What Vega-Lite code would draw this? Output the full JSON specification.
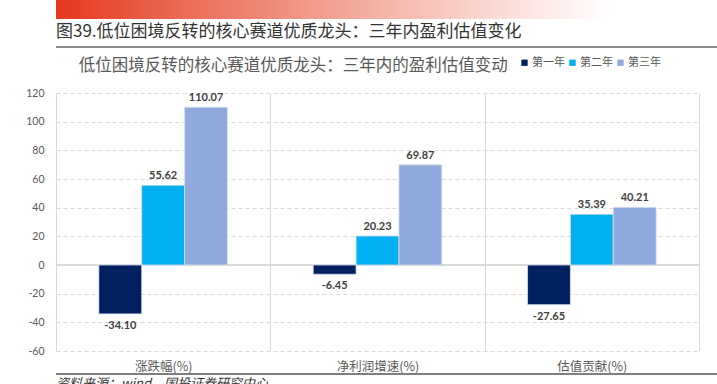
{
  "$schema": "https://vega.github.io/schema/vega-lite/v6.json",
  "background": "white",
  "padding": {"left": 25, "top": 0, "right": 0, "bottom": 0},
  "config": {"view": {"stroke": null}, "axisY": {"labelOverlap": false, "labelSeparation": 0}, "axisQuantitative": {"labelOverlap": false}, "locale": {"number": {"decimal": ".", "thousands": ",", "grouping": [3], "currency": ["$", ""], "minus": "-"}}},
  "columns": 1,
  "align": "none",
  "spacing": 9,
  "concat": [
    {
      "columns": 1,
      "align": "none",
      "spacing": 4,
      "concat": [
        {
          "width": 692,
          "height": 19,
          "data": {"values": [{"k": 1}]},
          "mark": {"type": "rect", "fill": {"gradient": "linear", "x1": 0, "x2": 1, "y1": 0, "y2": 0, "stops": [{"offset": 0, "color": "#e5381e"}, {"offset": 0.3, "color": "#ec7a66"}, {"offset": 0.6, "color": "#f5b6aa"}, {"offset": 0.85, "color": "#fce5e1"}, {"offset": 1, "color": "#ffffff"}]}},
          "encoding": {
            "x": {"datum": 0, "type": "quantitative", "scale": {"domain": [0, 1]}, "axis": null},
            "x2": {"datum": 0.8},
            "y": {"datum": 0, "type": "quantitative", "scale": {"domain": [0, 1]}, "axis": null},
            "y2": {"datum": 1}
          }
        },
        {
          "width": 692,
          "height": 2,
          "title": {"text": "图39.低位困境反转的核心赛道优质龙头：三年内盈利估值变化", "orient": "top", "anchor": "start", "font": "Noto Sans CJK SC", "fontSize": 17, "fontWeight": "normal", "color": "#333333", "offset": 5},
          "data": {"values": [{"k": 1}]},
          "mark": {"type": "rect", "fill": "#8c8c8c"},
          "encoding": {
            "x": {"datum": 0, "type": "quantitative", "scale": {"domain": [0, 1]}, "axis": null},
            "x2": {"datum": 1},
            "y": {"datum": 0, "type": "quantitative", "scale": {"domain": [0, 1]}, "axis": null},
            "y2": {"datum": 1}
          }
        }
      ]
    },
    {
      "columns": 1,
      "align": "none",
      "spacing": 0,
      "concat": [
        {
          "width": 643,
          "height": 258,
          "title": {"text": "低位困境反转的核心赛道优质龙头：三年内的盈利估值变动", "anchor": "start", "dx": 53, "font": "Noto Sans CJK SC", "fontSize": 16.5, "fontWeight": "normal", "color": "#595959", "offset": 14},
          "data": {"values": [
            {"cat": "涨跌幅(%)", "year": "第一年", "value": -34.10},
            {"cat": "涨跌幅(%)", "year": "第二年", "value": 55.62},
            {"cat": "涨跌幅(%)", "year": "第三年", "value": 110.07},
            {"cat": "净利润增速(%)", "year": "第一年", "value": -6.45},
            {"cat": "净利润增速(%)", "year": "第二年", "value": 20.23},
            {"cat": "净利润增速(%)", "year": "第三年", "value": 69.87},
            {"cat": "估值贡献(%)", "year": "第一年", "value": -27.65},
            {"cat": "估值贡献(%)", "year": "第二年", "value": 35.39},
            {"cat": "估值贡献(%)", "year": "第三年", "value": 40.21}
          ]},
          "encoding": {
            "y": {"field": "value", "type": "quantitative", "scale": {"domain": [-60, 120], "nice": false},
              "axis": {"title": null, "values": [-60, -40, -20, 0, 20, 40, 60, 80, 100, 120], "labelOverlap": false, "labelFont": "Lato", "labelFontSize": 10.5, "labelColor": "#595959", "labelPadding": 12, "ticks": false, "domain": false, "gridColor": "#d9d9d9", "gridDash": [4, 3], "gridWidth": 1, "minExtent": 30, "maxExtent": 30}}
          },
          "layer": [
            {
              "mark": {"type": "rule", "color": "#d9d9d9", "strokeWidth": 1},
              "encoding": {"y": {"datum": 0, "type": "quantitative"}}
            },
            {
              "mark": {"type": "bar", "stroke": "#d6dff0", "strokeWidth": 0.8},
              "encoding": {
                "x": {"field": "cat", "type": "nominal", "sort": ["涨跌幅(%)", "净利润增速(%)", "估值贡献(%)"], "scale": {"paddingInner": 0, "paddingOuter": 0},
                  "axis": {"title": null, "labelAngle": 0, "labelFont": "Noto Sans CJK SC", "labelFontSize": 12.5, "labelColor": "#595959", "labelPadding": 9, "ticks": false, "domain": false, "grid": true, "tickBand": "extent", "gridColor": "#d9d9d9", "gridWidth": 1}},
                "xOffset": {"field": "year", "type": "nominal", "sort": ["第一年", "第二年", "第三年"], "scale": {"paddingInner": 0, "paddingOuter": 1}},
                "color": {"field": "year", "type": "nominal", "sort": ["第一年", "第二年", "第三年"], "scale": {"domain": ["第一年", "第二年", "第三年"], "range": ["#002060", "#00b0f0", "#8faadc"]},
                  "legend": {"title": null, "orient": "none", "legendX": 463, "legendY": 57, "direction": "horizontal", "symbolType": "square", "symbolSize": 40, "symbolStrokeWidth": 0, "labelFont": "Noto Sans CJK SC", "labelFontSize": 11, "labelColor": "#595959", "labelOffset": 2, "columnPadding": 2}}
              }
            },
            {
              "transform": [{"filter": "datum.value >= 0"}],
              "mark": {"type": "text", "baseline": "bottom", "dy": -4, "font": "Lato", "fontSize": 11, "fontWeight": "bold", "color": "#404040"},
              "encoding": {
                "x": {"field": "cat", "type": "nominal", "sort": ["涨跌幅(%)", "净利润增速(%)", "估值贡献(%)"]},
                "xOffset": {"field": "year", "type": "nominal", "sort": ["第一年", "第二年", "第三年"]},
                "text": {"field": "value", "type": "quantitative", "format": ".2f"}
              }
            },
            {
              "transform": [{"filter": "datum.value < 0"}],
              "mark": {"type": "text", "baseline": "top", "dy": 6, "font": "Lato", "fontSize": 11, "fontWeight": "bold", "color": "#404040"},
              "encoding": {
                "x": {"field": "cat", "type": "nominal", "sort": ["涨跌幅(%)", "净利润增速(%)", "估值贡献(%)"]},
                "xOffset": {"field": "year", "type": "nominal", "sort": ["第一年", "第二年", "第三年"]},
                "text": {"field": "value", "type": "quantitative", "format": ".2f"}
              }
            }
          ]
        },
        {
          "width": 692,
          "height": 2,
          "title": {"text": "资料来源：wind，国投证券研究中心", "orient": "bottom", "anchor": "start", "font": "Noto Sans CJK SC", "fontSize": 13, "fontStyle": "italic", "fontWeight": "normal", "color": "#333333", "offset": 3},
          "data": {"values": [{"k": 1}]},
          "mark": {"type": "rect", "fill": "#7f7f7f"},
          "encoding": {
            "x": {"datum": 0, "type": "quantitative", "scale": {"domain": [0, 1]}, "axis": null},
            "x2": {"datum": 1},
            "y": {"datum": 0, "type": "quantitative", "scale": {"domain": [0, 1]}, "axis": null},
            "y2": {"datum": 1}
          }
        }
      ]
    }
  ]
}
